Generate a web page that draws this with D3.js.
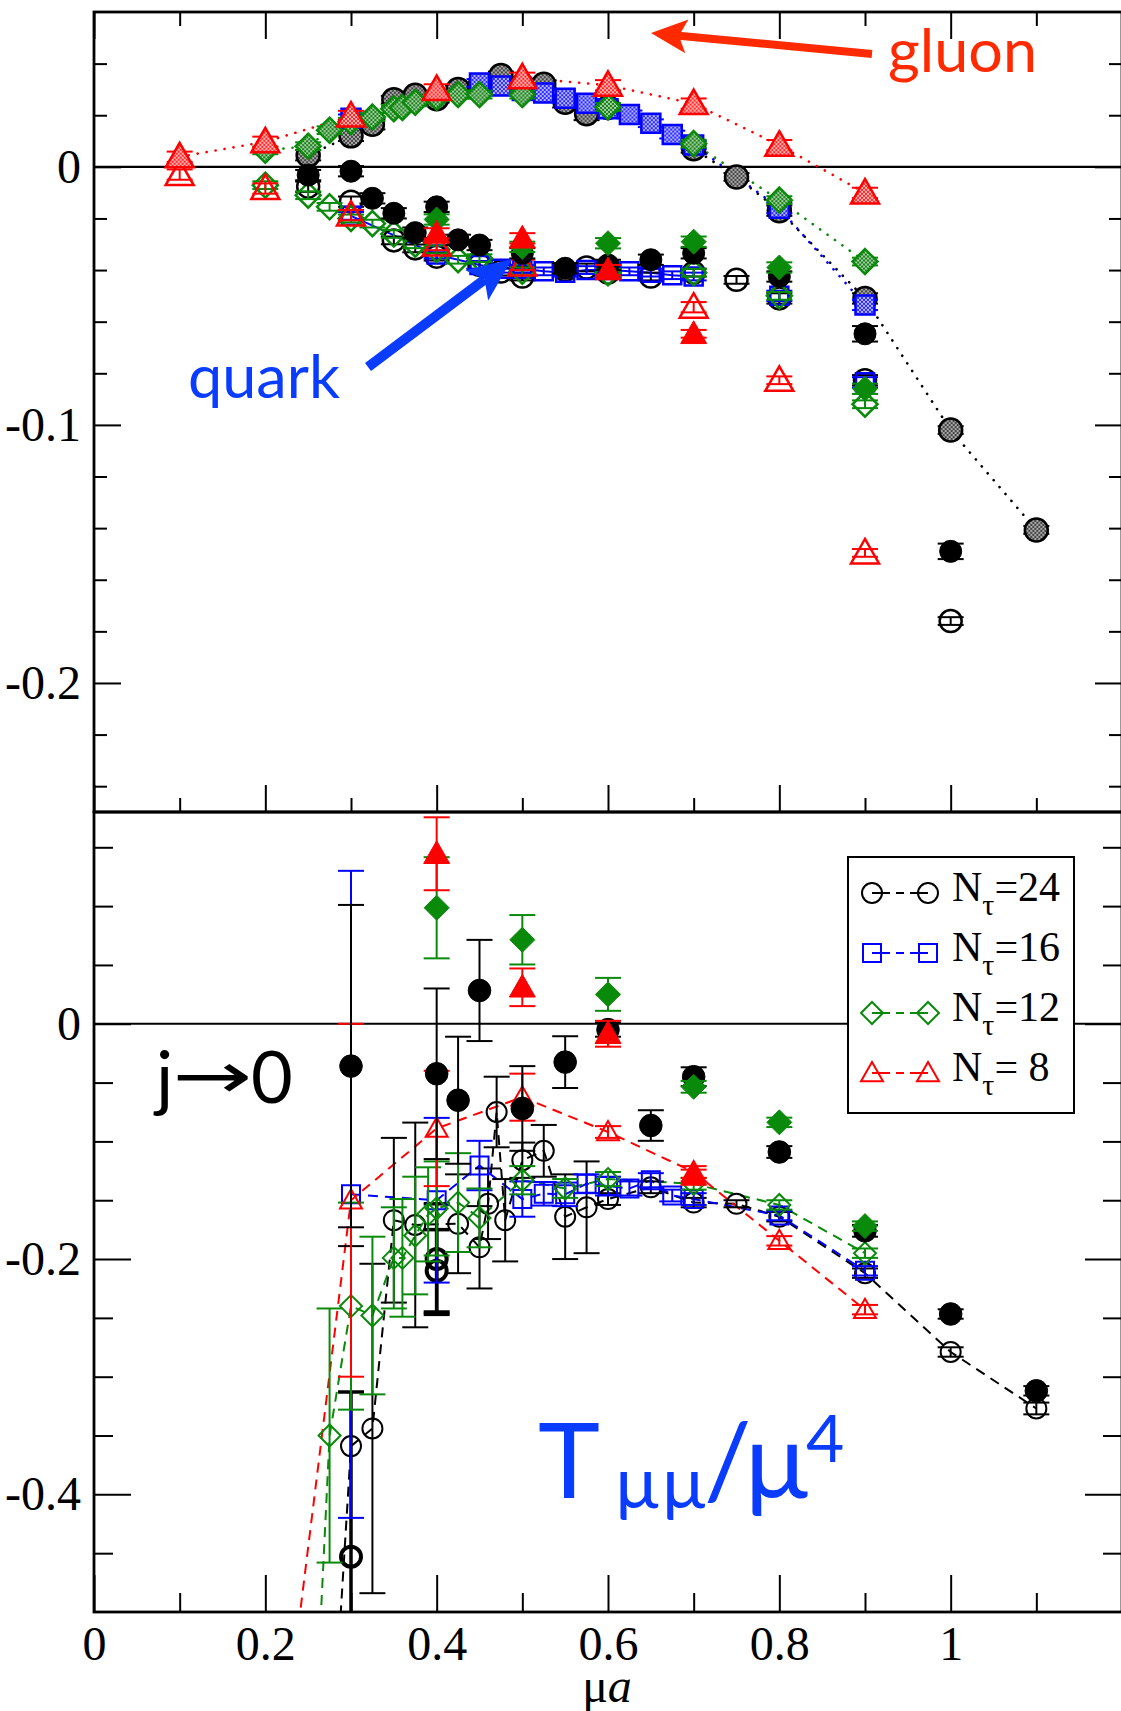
<!DOCTYPE html>
<html>
<head>
<meta charset="utf-8">
<script src="https://cdn.jsdelivr.net/npm/d3@7"></script>
<style>
  body { margin: 0; background: #fff; }
  svg { display: block; }
  .tick text { font-family: 'Liberation Serif', 'Times New Roman', serif; }
</style>
</head>
<body>
<svg id="chart"></svg>
<script>
// ---- data, each point is [mu*a, value, error] ----

// upper panel: gluon part (hatched symbols, dotted lines)
const gluon24 = [
  [0.25, 0.0045, 0.002], [0.3, 0.012, 0.002], [0.325, 0.0165, 0.002], [0.35, 0.026, 0.0015],
  [0.375, 0.0277, 0.0015], [0.4, 0.0264, 0.0015], [0.425, 0.030, 0.0015], [0.45, 0.031, 0.0015],
  [0.475, 0.0354, 0.0015], [0.5, 0.0316, 0.0015], [0.525, 0.032, 0.0015], [0.55, 0.025, 0.002],
  [0.575, 0.0206, 0.0025], [0.6, 0.023, 0.0015], [0.7, 0.007, 0.0015], [0.75, -0.0039, 0.0015],
  [0.8, -0.017, 0.002], [0.9, -0.051, 0.002], [1.0, -0.102, 0.0015], [1.1, -0.1407, 0.0015]
];
const gluon16 = [
  [0.3, 0.0188, 0.0015], [0.45, 0.0325, 0.0015], [0.475, 0.0313, 0.0015], [0.5, 0.0296, 0.0015],
  [0.525, 0.0286, 0.0015], [0.55, 0.0266, 0.0015], [0.575, 0.0246, 0.0015], [0.6, 0.0225, 0.0015],
  [0.625, 0.0203, 0.0015], [0.65, 0.0169, 0.0015], [0.675, 0.0125, 0.0015], [0.7, 0.0085, 0.0015],
  [0.8, -0.016, 0.002], [0.9, -0.0535, 0.002]
];
const gluon12 = [
  [0.2, 0.0064, 0.0015], [0.25, 0.008, 0.0015], [0.275, 0.0142, 0.0015], [0.3, 0.0175, 0.0015],
  [0.325, 0.0193, 0.0015], [0.35, 0.0225, 0.0015], [0.36, 0.023, 0.0015], [0.375, 0.025, 0.0015],
  [0.4, 0.027, 0.0015], [0.425, 0.028, 0.0015], [0.45, 0.028, 0.0015], [0.5, 0.028, 0.0015],
  [0.6, 0.0232, 0.0015], [0.7, 0.009, 0.0015], [0.8, -0.0129, 0.0015], [0.9, -0.0367, 0.0015]
];
const gluon8 = [
  [0.1, 0.0039, 0.002], [0.2, 0.0097, 0.002], [0.3, 0.0197, 0.002], [0.4, 0.030, 0.002],
  [0.5, 0.0345, 0.002], [0.6, 0.0316, 0.002], [0.7, 0.0245, 0.002], [0.8, 0.0084, 0.002],
  [0.9, -0.0101, 0.002]
];

// upper panel: quark part (open symbols)
const quark24 = [
  [0.25, -0.0077, 0.002], [0.3, -0.0135, 0.002], [0.35, -0.0285, 0.0015], [0.375, -0.0316, 0.0015],
  [0.4, -0.0348, 0.0015], [0.45, -0.038, 0.0015], [0.475, -0.0406, 0.0015], [0.5, -0.0425, 0.0015],
  [0.55, -0.040, 0.0015], [0.575, -0.039, 0.0015], [0.6, -0.041, 0.0015], [0.65, -0.0425, 0.0015],
  [0.7, -0.041, 0.0015], [0.75, -0.0438, 0.0015], [0.8, -0.051, 0.002], [0.9, -0.0827, 0.002],
  [1.0, -0.176, 0.0015]
];
const quark16 = [
  [0.3, -0.019, 0.0015], [0.4, -0.034, 0.0015], [0.45, -0.038, 0.0015], [0.475, -0.0395, 0.0015],
  [0.5, -0.0395, 0.0015], [0.525, -0.0405, 0.0015], [0.55, -0.041, 0.0015], [0.575, -0.040, 0.0015],
  [0.6, -0.040, 0.0015], [0.625, -0.0405, 0.0015], [0.65, -0.041, 0.0015], [0.675, -0.042, 0.0015],
  [0.7, -0.0425, 0.0015]
];
const quark16far = [[0.8, -0.050, 0.002], [0.9, -0.0835, 0.002]];
const quark12 = [
  [0.2, -0.0071, 0.0015], [0.25, -0.011, 0.0015], [0.275, -0.0155, 0.0015], [0.3, -0.020, 0.0015],
  [0.325, -0.022, 0.0015], [0.35, -0.026, 0.0015], [0.375, -0.030, 0.0015], [0.4, -0.032, 0.0015],
  [0.425, -0.036, 0.0015], [0.45, -0.0354, 0.0015], [0.5, -0.0405, 0.0015], [0.6, -0.041, 0.0015],
  [0.7, -0.041, 0.0015], [0.8, -0.050, 0.0015], [0.9, -0.092, 0.0015]
];
const quark8 = [
  [0.1, -0.003, 0.002], [0.2, -0.0084, 0.002], [0.3, -0.0187, 0.002], [0.4, -0.0303, 0.002],
  [0.5, -0.038, 0.002], [0.7, -0.0544, 0.002], [0.8, -0.0827, 0.0015], [0.9, -0.1496, 0.0015]
];

// upper panel: solid symbols
const full24 = [
  [0.25, -0.0032, 0.002], [0.3, -0.0017, 0.002], [0.325, -0.0122, 0.002], [0.35, -0.018, 0.002],
  [0.375, -0.0255, 0.002], [0.4, -0.0155, 0.002], [0.425, -0.0283, 0.002], [0.45, -0.0303, 0.002],
  [0.5, -0.0335, 0.002], [0.55, -0.0393, 0.002], [0.6, -0.038, 0.002], [0.65, -0.036, 0.002],
  [0.7, -0.0335, 0.002], [0.8, -0.0425, 0.002], [0.9, -0.0647, 0.003], [1.0, -0.149, 0.003]
];
const full12 = [
  [0.4, -0.0204, 0.002], [0.5, -0.031, 0.002], [0.6, -0.0296, 0.002], [0.7, -0.029, 0.002],
  [0.8, -0.039, 0.002], [0.9, -0.086, 0.002]
];
const full8 = [
  [0.4, -0.0258, 0.002], [0.5, -0.0277, 0.002], [0.6, -0.040, 0.002], [0.7, -0.0647, 0.0015]
];

// lower panel: j -> 0 extrapolation (open symbols, dashed lines)
const jzero24 = [
  [0.25, -0.95, 0], [0.3, -0.359, 0.17], [0.325, -0.344, 0.14], [0.35, -0.167, 0.07],
  [0.375, -0.171, 0.087], [0.425, -0.17, 0.042], [0.45, -0.19, 0.035], [0.46, -0.153, 0.03],
  [0.47, -0.075, 0.03], [0.48, -0.167, 0.035], [0.5, -0.116, 0.015], [0.525, -0.108, 0.022],
  [0.55, -0.164, 0.036], [0.575, -0.156, 0.039], [0.6, -0.149, 0.005], [0.65, -0.139, 0.005],
  [0.7, -0.152, 0.004], [0.75, -0.153, 0.003], [0.8, -0.164, 0.004], [0.9, -0.212, 0.004],
  [1.0, -0.279, 0.004], [1.1, -0.327, 0.005]
];
const jzero24b = [[0.3, -0.453, 0.14], [0.4, -0.2, 0.047], [0.4, -0.21, 0.035]];
const jzero16 = [
  [0.3, -0.145, 0.275], [0.4, -0.150, 0.07], [0.45, -0.1205, 0.021], [0.5, -0.149, 0.015],
  [0.525, -0.1445, 0.01], [0.55, -0.145, 0.01], [0.575, -0.136, 0.008], [0.6, -0.138, 0.008],
  [0.625, -0.140, 0.006], [0.65, -0.133, 0.006], [0.675, -0.146, 0.005], [0.7, -0.149, 0.005],
  [0.8, -0.163, 0.004], [0.9, -0.21, 0.004]
];
const jzero12 = [
  [0.25, -0.725, 0], [0.275, -0.35, 0.108], [0.3, -0.24, 0.088], [0.325, -0.248, 0.067],
  [0.35, -0.199, 0.043], [0.36, -0.199, 0.05], [0.375, -0.18, 0.05], [0.39, -0.162, 0.04],
  [0.4, -0.157, 0.04], [0.425, -0.152, 0.042], [0.45, -0.165, 0.025], [0.5, -0.133, 0.012],
  [0.55, -0.14, 0.008], [0.6, -0.132, 0.006], [0.7, -0.136, 0.005], [0.8, -0.154, 0.004],
  [0.9, -0.195, 0.004]
];
const jzero8 = [
  [0.2, -0.74, 0], [0.3, -0.150, 0.15], [0.4, -0.089, 0.049], [0.5, -0.0624, 0.02],
  [0.6, -0.092, 0.005], [0.7, -0.126, 0.005], [0.8, -0.1845, 0.004], [0.9, -0.243, 0.004]
];
const jzeroFull24 = [
  [0.3, -0.036, 0.137], [0.4, -0.0425, 0.0725], [0.425, -0.065, 0.054], [0.45, 0.0283, 0.043],
  [0.5, -0.072, 0.036], [0.55, -0.0326, 0.022], [0.6, -0.005, 0.006], [0.65, -0.0865, 0.013],
  [0.7, -0.045, 0.008], [0.8, -0.109, 0.005], [0.9, -0.176, 0.005], [1.0, -0.2467, 0.004],
  [1.1, -0.312, 0.004]
];
const jzeroFull12 = [
  [0.4, 0.0986, 0.043], [0.5, 0.0714, 0.021], [0.6, 0.025, 0.014], [0.7, -0.0536, 0.005],
  [0.8, -0.0838, 0.004], [0.9, -0.172, 0.004]
];
const jzeroFull8 = [
  [0.4, 0.1445, 0.031], [0.5, 0.031, 0.016], [0.6, -0.0085, 0.011], [0.7, -0.129, 0.005]
];

// ticks and labels
const xMajor = [0, 0.2, 0.4, 0.6, 0.8, 1, 1.2];
const xMinor = [0.1, 0.3, 0.5, 0.7, 0.9, 1.1];
const xLabels = ["0", "0.2", "0.4", "0.6", "0.8", "1", ""];
const topMajor = [-0.2, -0.1, 0];
const topLabels = ["-0.2", "-0.1", "0"];
const topMinor = [-0.24, -0.22, -0.18, -0.16, -0.14, -0.12, -0.08, -0.06, -0.04, -0.02, 0.02, 0.04];
const botMajor = [-0.4, -0.2, 0];
const botLabels = ["-0.4", "-0.2", "0"];
const botMinor = [-0.45, -0.35, -0.3, -0.25, -0.15, -0.1, -0.05, 0.05, 0.1, 0.15];
const legendLabels = ["24", "16", "12", " 8"];

// ---- setup ----
const width = 1121, height = 1711;
const svg = d3.select("#chart").attr("width", width).attr("height", height);

const x = d3.scaleLinear().domain([0, 1.2]).range([94, 1122]);
const yTop = d3.scaleLinear().domain([-0.25, 0.06]).range([812, 12]);
const yBot = d3.scaleLinear().domain([-0.5, 0.18]).range([1612, 812]);

const BLACK = "#000", BLUE = "#0000ff", GREEN = "#0a8a0a", RED = "#ff0000";
const serif = "'Liberation Serif', 'Times New Roman', serif";
const sans = "Lato, 'Open Sans', sans-serif";

const defs = svg.append("defs");
// checkered fill like the grace pattern
function hatch(id, dark, light) {
  const p = defs.append("pattern").attr("id", id)
    .attr("width", 4).attr("height", 4).attr("patternUnits", "userSpaceOnUse");
  p.append("rect").attr("width", 4).attr("height", 4).attr("fill", light);
  p.append("rect").attr("width", 2).attr("height", 2).attr("fill", dark);
  p.append("rect").attr("x", 2).attr("y", 2).attr("width", 2).attr("height", 2).attr("fill", dark);
}
hatch("hGray", "#444", "#a8a8a8");
hatch("hBlue", "#2a2aff", "#b4b4ff");
hatch("hGreen", "#1f801f", "#9ccf9c");
hatch("hRed", "#ff2a2a", "#ffb4b4");

defs.append("clipPath").attr("id", "clipTop")
  .append("rect").attr("x", 94).attr("y", 12).attr("width", 1028).attr("height", 800);
defs.append("clipPath").attr("id", "clipBot")
  .append("rect").attr("x", 94).attr("y", 812).attr("width", 1028).attr("height", 800);

function shape(type, s) {
  if (type === "circle") return `M${-s},0a${s},${s} 0 1,0 ${2 * s},0a${s},${s} 0 1,0 ${-2 * s},0Z`;
  if (type === "square") return `M${-s},${-s}H${s}V${s}H${-s}Z`;
  if (type === "diamond") return `M0,${-s}L${s},0L0,${s}L${-s},0Z`;
  return `M0,${-s}L${s},${s * 0.75}L${-s},${s * 0.75}Z`;
}

function drawLine(g, y, data, color, style) {
  g.append("path").datum(data)
    .attr("d", d3.line().x(d => x(d[0])).y(d => y(d[1])))
    .attr("fill", "none")
    .attr("stroke", color)
    .attr("stroke-width", style === "dot" ? 2.6 : 2)
    .attr("stroke-linecap", style === "dot" ? "round" : "butt")
    .attr("stroke-dasharray", style === "dot" ? "0.1,9" : style === "dash" ? "10,7" : null);
}

function drawPoints(g, y, data, o) {
  const cap = o.cap || 13;
  const eb = g.append("g").attr("stroke", o.color).attr("stroke-width", o.ew || 2);
  data.filter(d => d[2] > 0).forEach(d => {
    const cx = x(d[0]), y1 = y(d[1] + d[2]), y2 = y(d[1] - d[2]);
    eb.append("line").attr("x1", cx).attr("x2", cx).attr("y1", y1).attr("y2", y2);
    eb.append("line").attr("x1", cx - cap).attr("x2", cx + cap).attr("y1", y1).attr("y2", y1);
    eb.append("line").attr("x1", cx - cap).attr("x2", cx + cap).attr("y1", y2).attr("y2", y2);
  });
  g.append("g").selectAll("path").data(data).join("path")
    .attr("transform", d => `translate(${x(d[0])},${y(d[1])})`)
    .attr("d", shape(o.type, o.size))
    .attr("fill", o.fill)
    .attr("stroke", o.stroke)
    .attr("stroke-width", o.sw || 2);
}

// ---- upper panel ----
const panelTop = svg.append("g").attr("clip-path", "url(#clipTop)");
panelTop.append("line").attr("x1", 94).attr("x2", 1122).attr("y1", yTop(0)).attr("y2", yTop(0))
  .attr("stroke", BLACK).attr("stroke-width", 2.2);

drawLine(panelTop, yTop, gluon24, BLACK, "dot");
drawLine(panelTop, yTop, gluon16, BLUE, "dot");
drawLine(panelTop, yTop, gluon12, GREEN, "dot");
drawLine(panelTop, yTop, gluon8, RED, "dot");
drawLine(panelTop, yTop, quark16, BLUE, "solid");

const openTop = { fill: "none", sw: 2.5 };
drawPoints(panelTop, yTop, quark24, { ...openTop, type: "circle", size: 11, stroke: BLACK, color: BLACK });
drawPoints(panelTop, yTop, quark16, { ...openTop, type: "square", size: 9, stroke: BLUE, color: BLUE });
drawPoints(panelTop, yTop, quark16far, { ...openTop, type: "square", size: 9, stroke: BLUE, color: BLUE });
drawPoints(panelTop, yTop, quark12, { ...openTop, type: "diamond", size: 12.5, stroke: GREEN, color: GREEN });
drawPoints(panelTop, yTop, quark8, { ...openTop, type: "triangle", size: 14, stroke: RED, color: RED });
drawPoints(panelTop, yTop, gluon24, { type: "circle", size: 11.5, fill: "url(#hGray)", stroke: BLACK, color: BLACK, sw: 2.5 });
drawPoints(panelTop, yTop, gluon16, { type: "square", size: 9.5, fill: "url(#hBlue)", stroke: BLUE, color: BLUE, sw: 2.5 });
drawPoints(panelTop, yTop, gluon12, { type: "diamond", size: 12.5, fill: "url(#hGreen)", stroke: GREEN, color: GREEN, sw: 2.5 });
drawPoints(panelTop, yTop, gluon8, { type: "triangle", size: 14, fill: "url(#hRed)", stroke: RED, color: RED, sw: 2.5 });
drawPoints(panelTop, yTop, full24, { type: "circle", size: 11, fill: BLACK, stroke: BLACK, color: BLACK, sw: 1 });
drawPoints(panelTop, yTop, full12, { type: "diamond", size: 12.5, fill: GREEN, stroke: GREEN, color: GREEN, sw: 1 });
drawPoints(panelTop, yTop, full8, { type: "triangle", size: 13, fill: RED, stroke: RED, color: RED, sw: 1 });

// ---- lower panel ----
const panelBot = svg.append("g").attr("clip-path", "url(#clipBot)");
panelBot.append("line").attr("x1", 94).attr("x2", 1122).attr("y1", yBot(0)).attr("y2", yBot(0))
  .attr("stroke", BLACK).attr("stroke-width", 2.2);

drawLine(panelBot, yBot, jzero24, BLACK, "dash");
drawLine(panelBot, yBot, jzero16, BLUE, "dash");
drawLine(panelBot, yBot, jzero12, GREEN, "dash");
drawLine(panelBot, yBot, jzero8, RED, "dash");

drawPoints(panelBot, yBot, jzero24, { type: "circle", size: 10, fill: "none", stroke: BLACK, color: BLACK });
drawPoints(panelBot, yBot, jzero24b, { type: "circle", size: 10, fill: "none", stroke: BLACK, color: BLACK, sw: 4, ew: 3.5 });
drawPoints(panelBot, yBot, jzero16, { type: "square", size: 9, fill: "none", stroke: BLUE, color: BLUE });
drawPoints(panelBot, yBot, jzero12, { type: "diamond", size: 11, fill: "none", stroke: GREEN, color: GREEN });
drawPoints(panelBot, yBot, jzero8, { type: "triangle", size: 11, fill: "none", stroke: RED, color: RED });
drawPoints(panelBot, yBot, jzeroFull24, { type: "circle", size: 11.3, fill: BLACK, stroke: BLACK, color: BLACK, sw: 1 });
drawPoints(panelBot, yBot, jzeroFull12, { type: "diamond", size: 12.5, fill: GREEN, stroke: GREEN, color: GREEN, sw: 1 });
drawPoints(panelBot, yBot, jzeroFull8, { type: "triangle", size: 13, fill: RED, stroke: RED, color: RED, sw: 1 });

// ---- axes ----
function tickAxis(axis, tx, ty, values, len, fmt, pad) {
  const g = svg.append("g").attr("transform", `translate(${tx},${ty})`)
    .call(axis.tickValues(values).tickSize(-len).tickPadding(pad || 0)
      .tickFormat(fmt ? (d, i) => fmt[i] : () => ""));
  g.attr("font-family", serif).attr("font-size", 48);
  g.select(".domain").remove();
  g.selectAll(".tick line").attr("stroke", BLACK).attr("stroke-width", 2);
  g.selectAll(".tick text").attr("fill", BLACK)
    .attr("font-family", serif).style("font-family", serif).style("font-size", "48px");
  return g;
}
// upper panel ticks
tickAxis(d3.axisTop(x), 0, 12, xMajor, 27);
tickAxis(d3.axisTop(x), 0, 12, xMinor, 14);
tickAxis(d3.axisBottom(x), 0, 812, xMajor, 27);
tickAxis(d3.axisBottom(x), 0, 812, xMinor, 14);
tickAxis(d3.axisLeft(yTop), 94, 0, topMajor, 27, topLabels, 13);
tickAxis(d3.axisLeft(yTop), 94, 0, topMinor, 13);
tickAxis(d3.axisRight(yTop), 1122, 0, topMajor, 27);
tickAxis(d3.axisRight(yTop), 1122, 0, topMinor, 13);
// lower panel ticks
tickAxis(d3.axisBottom(x), 0, 1612, xMajor, 37, xLabels, 14);
tickAxis(d3.axisBottom(x), 0, 1612, xMinor, 19);
tickAxis(d3.axisLeft(yBot), 94, 0, botMajor, 37, botLabels, 13);
tickAxis(d3.axisLeft(yBot), 94, 0, botMinor, 19);
tickAxis(d3.axisRight(yBot), 1122, 0, botMajor, 37);
tickAxis(d3.axisRight(yBot), 1122, 0, botMinor, 19);

// frames
[[12, 812], [812, 1612]].forEach(([a, b]) => {
  svg.append("rect").attr("x", 94).attr("y", a).attr("width", 1028).attr("height", b - a)
    .attr("fill", "none").attr("stroke", BLACK).attr("stroke-width", 2.8);
});

// x axis title
svg.append("text").attr("x", 607).attr("y", 1702).attr("text-anchor", "middle")
  .style("font-family", serif).style("font-size", "48px")
  .call(t => {
    t.append("tspan").text("μ");
    t.append("tspan").style("font-style", "italic").text("a");
  });

// ---- legend ----
const leg = svg.append("g");
leg.append("rect").attr("x", 848).attr("y", 857).attr("width", 226).attr("height", 256)
  .attr("fill", "#fff").attr("stroke", BLACK).attr("stroke-width", 2);
const legendStyles = [
  { type: "circle", size: 10, color: BLACK },
  { type: "square", size: 9, color: BLUE },
  { type: "diamond", size: 11, color: GREEN },
  { type: "triangle", size: 11, color: RED }
];
legendLabels.forEach((lab, i) => {
  const cy = 893 + i * 60;
  const st = legendStyles[i];
  leg.append("line").attr("x1", 872).attr("x2", 928).attr("y1", cy).attr("y2", cy)
    .attr("stroke", st.color).attr("stroke-width", 2).attr("stroke-dasharray", "18,6,8,6,18");
  [872, 928].forEach(cx => {
    leg.append("path").attr("transform", `translate(${cx},${cy})`)
      .attr("d", shape(st.type, st.size)).attr("fill", "none")
      .attr("stroke", st.color).attr("stroke-width", 2);
  });
  const t = leg.append("text").attr("x", 952).attr("y", cy + 8)
    .style("font-family", serif).style("font-size", "42px").attr("fill", BLACK);
  t.append("tspan").text("N");
  t.append("tspan").attr("dy", 14).style("font-size", "30px").text("τ");
  t.append("tspan").attr("dy", -14).text("=" + lab);
});

// ---- annotations ----
function arrow(x1, y1, x2, y2, color, w, hl, hw) {
  const a = Math.atan2(y2 - y1, x2 - x1);
  const ux = Math.cos(a), uy = Math.sin(a);
  const bx = x2 - hl * ux, by = y2 - hl * uy;
  const nx = x2 - hl * 0.78 * ux, ny = y2 - hl * 0.78 * uy;
  svg.append("line").attr("x1", x1).attr("y1", y1).attr("x2", nx).attr("y2", ny)
    .attr("stroke", color).attr("stroke-width", w);
  svg.append("path")
    .attr("d", `M${x2},${y2}L${bx - uy * hw},${by + ux * hw}L${nx},${ny}L${bx + uy * hw},${by - ux * hw}Z`)
    .attr("fill", color);
}
const RED2 = "#ff2a00", BLUE2 = "#0a3cff";
arrow(872, 54, 651, 33, RED2, 8, 36, 17);
arrow(368, 367, 512, 259, BLUE2, 10, 44, 19);

svg.append("text").attr("x", 888).attr("y", 72).attr("fill", RED2)
  .attr("textLength", 149).attr("lengthAdjust", "spacingAndGlyphs")
  .style("font-family", sans).style("font-size", "60px").text("gluon");
svg.append("text").attr("x", 188).attr("y", 398).attr("fill", BLUE2)
  .attr("textLength", 152).attr("lengthAdjust", "spacingAndGlyphs")
  .style("font-family", sans).style("font-size", "60px").text("quark");

// "j -> 0" label, pieces placed one by one
svg.append("text").attr("x", 156).attr("y", 1103).attr("fill", BLACK)
  .style("font-family", sans).style("font-size", "72px").text("j");
svg.append("text").attr("x", 172).attr("y", 1098).attr("fill", BLACK)
  .attr("textLength", 80).attr("lengthAdjust", "spacingAndGlyphs")
  .style("font-family", "'DejaVu Sans', sans-serif").style("font-size", "64px").text("→");
svg.append("text").attr("x", 251).attr("y", 1103).attr("fill", BLACK)
  .style("font-family", sans).style("font-size", "72px").text("0");

const tt = svg.append("text").attr("y", 1498).attr("fill", BLUE2)
  .style("font-family", sans).style("font-size", "105px");
tt.append("tspan").attr("x", 538).text("T");
tt.append("tspan").attr("x", 614).attr("dy", 10).style("font-size", "72px").text("µµ");
tt.append("tspan").attr("x", 704).attr("dy", -10).text("/");
tt.append("tspan").attr("x", 743).text("µ");
tt.append("tspan").attr("x", 806).attr("dy", -36).style("font-size", "66px").text("4");
</script>
</body>
</html>
